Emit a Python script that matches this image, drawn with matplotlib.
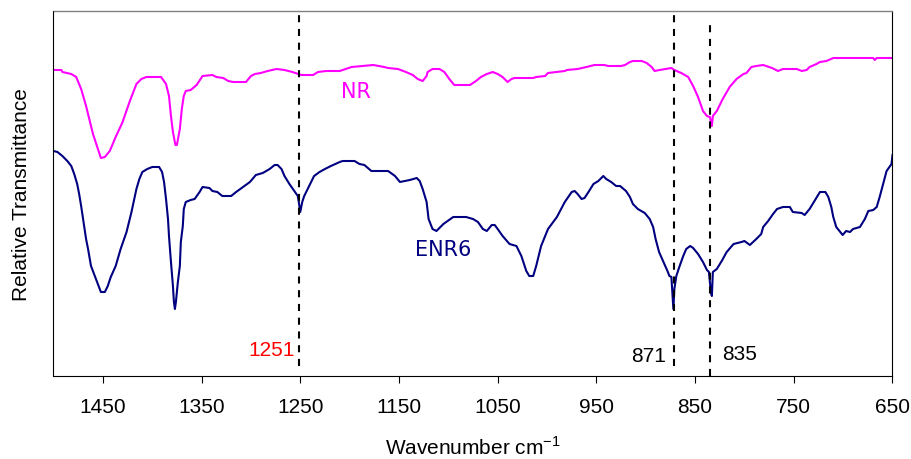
import matplotlib
matplotlib.use("Agg")
import matplotlib.pyplot as plt

plt.rcParams['font.family'] = ['Liberation Sans', 'DejaVu Sans']

# NR spectrum (wavenumber, relative transmittance)
nr_wn = [1500, 1492, 1491, 1482, 1477, 1472, 1467, 1460, 1452, 1448, 1443, 1437,
         1430, 1423, 1416, 1411, 1406, 1391, 1386, 1383, 1381, 1379, 1376.5, 1375,
         1372, 1370, 1368, 1366, 1361, 1355, 1349, 1339, 1335, 1328, 1323, 1318,
         1305, 1300, 1296, 1290, 1283, 1274, 1266, 1258, 1249, 1237, 1232, 1224,
         1210, 1207, 1198, 1187, 1176, 1165, 1161, 1151, 1143, 1136, 1131, 1126,
         1122, 1121, 1116, 1109, 1104, 1099, 1094, 1078, 1072, 1067, 1061, 1055,
         1050, 1045, 1041, 1040, 1036, 1033, 1014, 1011, 1002, 999, 982, 980,
         969, 960, 952, 942, 938, 925, 921, 916, 913, 904, 899, 894,
         891, 886, 874, 871, 864, 857, 852, 847, 842, 838, 835, 833,
         832, 828, 822, 815, 808, 801, 798, 793, 788, 781, 778, 772,
         766, 761, 747, 742, 737, 734, 727, 723.5, 717, 710, 669.5, 668,
         666, 650]
nr_t = [306, 306, 304, 302, 299, 287, 270, 242, 218, 219, 225, 239,
        254, 274, 292, 297, 299, 299, 292, 280, 260, 244, 231, 231,
        247, 267, 280, 285, 286, 291, 300, 301, 299, 298, 295, 294,
        294, 300, 302, 303, 305, 307, 306, 304, 301, 301, 304, 305,
        305, 306, 309, 310, 311, 309, 308, 307, 304, 301, 297, 295,
        300, 304, 307, 307, 304, 297, 291, 291, 295, 299, 302, 304,
        302, 299, 295, 294, 297, 298, 298, 299, 300, 303, 305, 306,
        307, 309, 311, 311, 310, 310, 311, 314, 315, 315, 313, 309,
        305, 306, 308, 306, 303, 299, 290, 279, 265, 260, 259, 250,
        260, 265, 277, 289, 297, 302, 303, 309, 310, 311, 310, 308,
        305, 307, 307, 305, 306, 309, 312, 314, 315, 318, 318, 316,
        318, 318]

# ENR6 spectrum
enr_wn = [1500, 1496, 1491, 1486, 1482, 1479, 1476, 1474, 1472, 1469, 1467, 1465,
          1462, 1457, 1452, 1448, 1445, 1442, 1437, 1432, 1426, 1421, 1416, 1413,
          1410, 1405, 1400, 1393, 1390, 1388, 1386, 1384, 1383, 1381, 1379, 1378,
          1377, 1376, 1374, 1372, 1371, 1369, 1368, 1366, 1361, 1357, 1352, 1349,
          1342, 1339, 1334, 1329, 1320, 1315, 1308, 1301, 1295, 1288, 1281, 1276,
          1273, 1269, 1266, 1261, 1256, 1252.5, 1251.5, 1250, 1248, 1246, 1241, 1236,
          1230.5, 1225, 1219, 1210, 1207, 1195, 1190, 1185, 1178, 1161, 1154, 1149,
          1139, 1132, 1129, 1126, 1122, 1120, 1116, 1112, 1105, 1095, 1082, 1075,
          1070, 1065, 1061, 1056, 1053, 1050, 1045, 1038, 1031, 1026, 1021, 1018,
          1014, 1011, 1006, 999, 990, 982, 975, 972, 969, 965, 962, 958,
          953, 948, 943, 940, 935, 930, 926, 920, 916, 913, 908, 901,
          896, 892.5, 890, 886.5, 882, 878, 876, 874, 872, 871, 869, 866,
          862, 859, 855, 852, 847, 842, 838, 836, 834, 833, 832, 828,
          823, 818, 811, 803, 800, 794.5, 788, 783, 781, 776, 771, 767,
          761, 754, 751, 742, 739, 734, 729, 723.5, 718, 715, 712, 710,
          707, 703, 700.5, 697, 693, 690, 683, 678, 674.5, 669.5, 666, 663,
          659, 656, 652.5, 651, 650]
enr_t = [225, 224, 220, 215, 210, 202, 192, 182, 170, 150, 137, 127,
         110, 97, 84, 84, 90, 99, 110, 127, 144, 164, 187, 197,
         204, 207, 209, 209, 204, 194, 177, 157, 140, 114, 90, 74,
         67, 74, 94, 110, 134, 150, 167, 174, 176, 177, 184, 189,
         188, 185, 184, 180, 180, 184, 189, 194, 201, 203, 207, 211,
         211, 207, 200, 192, 185, 180, 174, 164, 174, 180, 190, 200,
         204, 207, 210, 214, 215, 215, 212, 211, 205, 205, 200, 194,
         196, 198, 195, 187, 174, 157, 147, 145, 152, 159, 159, 157,
         154, 147, 145, 151, 151, 147, 140, 132, 130, 120, 105, 100,
         100, 110, 130, 147, 159, 174, 184, 185, 182, 177, 178, 184,
         192, 195, 200, 197, 194, 190, 190, 185, 179, 172, 167, 163,
         157, 149, 137, 124, 114, 105, 100, 99, 67, 87, 100, 109,
         120, 127, 130, 128, 122, 114, 106, 104, 84, 80, 104, 107,
         115, 124, 132, 134, 135, 131, 137, 142, 149, 155, 162, 167,
         169, 169, 164, 163, 161, 167, 175, 184, 184, 179, 169, 159,
         149, 144, 141, 145, 144, 147, 149, 157, 165, 166, 169, 179,
         194, 205, 210, 212, 221]

marker_wn = [1251, 871, 835]
marker_txt = ['1251', '871', '835']

fig = plt.figure(figsize=(9.12, 4.6), dpi=100)
ax = fig.add_axes([53.5 / 912, 1 - 377 / 460, 839 / 912, 365 / 460])

ax.plot(nr_wn, nr_t, color='#FF00FF', lw=1.5)
ax.plot(enr_wn, enr_t, color='#000080', lw=1.5)

# dashed reference lines
dash = (3.4, 3.2)
ax.axvline(marker_wn[0], ymin=0.027, ymax=1, color='black', lw=1.5, dashes=dash)
ax.axvline(marker_wn[1], ymin=0.027, ymax=1, color='black', lw=1.5, dashes=dash)
ax.axvline(marker_wn[2], ymin=0, ymax=0.973, color='black', lw=1.5, dashes=dash)

ax.text(1279, 26, marker_txt[0], color='red', fontsize=15, ha='center', va='center')
ax.text(897, 21, marker_txt[1], color='black', fontsize=15, ha='center', va='center')
ax.text(805, 22, marker_txt[2], color='black', fontsize=15, ha='center', va='center')

ax.text(1194, 285, 'NR', color='#FF00FF', fontsize=15, ha='center', va='center',
        family='DejaVu Sans')
ax.text(1105, 127, 'ENR6', color='#000080', fontsize=15, ha='center', va='center',
        family='DejaVu Sans')

ax.set_xlim(1500, 650)
ax.set_ylim(0, 365)
ax.set_xticks([1450, 1350, 1250, 1150, 1050, 950, 850, 750, 650])
ax.set_yticks([])
ax.tick_params(axis='x', direction='out', length=5, width=0.8, pad=10, labelsize=15)

for side in ['left', 'bottom', 'right']:
    ax.spines[side].set_color('black')
    ax.spines[side].set_linewidth(0.8)
ax.spines['top'].set_color('#808080')
ax.spines['top'].set_linewidth(1.0)

ax.set_xlabel('Wavenumber cm$^{\\mathregular{-1}}$', fontsize=15, labelpad=14)
ax.set_ylabel('Relative Transmittance', fontsize=15, labelpad=16)

fig.savefig('out.png', dpi=100)
